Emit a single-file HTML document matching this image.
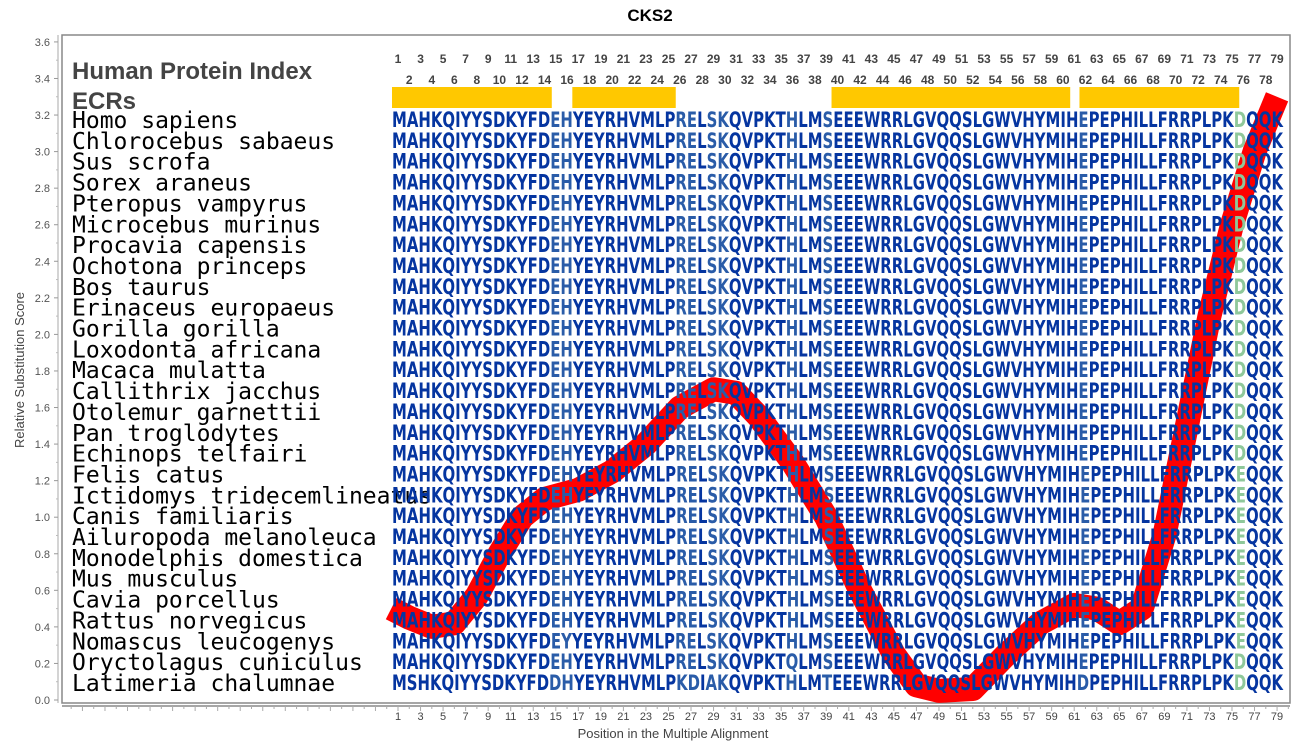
<!DOCTYPE html>
<html><head><meta charset="utf-8"><style>
html,body{margin:0;padding:0;background:#fff;width:1300px;height:750px;overflow:hidden}
svg{display:block}
</style></head><body>
<svg id="s" width="1300" height="750" xmlns="http://www.w3.org/2000/svg" font-family="Liberation Sans, sans-serif"></svg>
<script>
var s=document.getElementById('s');var h='';
function X(p){return 398+(p-1)*11.27;}
function Y(v){return 700-v*182.8;}
h+='<defs><clipPath id="c"><rect x="62" y="35" width="1228" height="668"/></clipPath></defs>';
h+='<text x="650" y="21" text-anchor="middle" font-weight="bold" font-size="17">CKS2</text>';
h+='<rect x="62" y="35" width="1228" height="668" fill="none" stroke="#888" stroke-width="1.5"/>';
h+='<line x1="58" y1="35" x2="58" y2="703" stroke="#aaa"/>';
h+='<line x1="62" y1="706" x2="1290" y2="706" stroke="#888" stroke-width="1.5"/>';
for(var v=0;v<=3.6001;v+=0.2){var y=Y(v);h+='<text x="50" y="'+(y+4)+'" text-anchor="end" font-size="11" fill="#555">'+v.toFixed(1)+'</text><line x1="54" y1="'+y+'" x2="58" y2="'+y+'" stroke="#999"/>';}
for(var v=0.1;v<3.6;v+=0.2){var y=Y(v);h+='<line x1="56" y1="'+y+'" x2="58" y2="'+y+'" stroke="#bbb"/>';}
for(var p=-29;p<=80;p++){var x=X(p);if(x<62||x>1290)continue;h+='<line x1="'+x+'" y1="706" x2="'+x+'" y2="'+(p%2?711:709)+'" stroke="#aaa"/>';}
for(var p=1;p<=79;p+=2)h+='<text x="'+X(p)+'" y="720" text-anchor="middle" font-size="11" fill="#444">'+p+'</text>';
h+='<text x="673" y="738" text-anchor="middle" font-size="13" fill="#444">Position in the Multiple Alignment</text>';
h+='<text transform="translate(24,370) rotate(-90)" text-anchor="middle" font-size="13" fill="#444">Relative Substitution Score</text>';
for(var p=1;p<=79;p++){h+='<text x="'+X(p)+'" y="'+(p%2?63:84)+'" text-anchor="middle" font-size="12" font-weight="bold" fill="#444">'+p+'</text>';}
h+='<text x="72" y="79" font-size="24" font-weight="bold" fill="#444">Human Protein Index</text>';
h+='<text x="72" y="109" font-size="24" font-weight="bold" fill="#444">ECRs</text>';
[[1,15],[17,26],[40,61],[62,76]].forEach(function(r){var x1=X(r[0])-6,x2=X(r[1])-4;h+='<rect x="'+x1+'" y="87" width="'+(x2-x1)+'" height="21" fill="#ffc800"/>';});
var pts=[[0.4,0.5],[2,0.45],[4,0.4],[6,0.42],[8,0.57],[10,0.8],[12,1.0],[14,1.1],[17,1.15],[20,1.25],[23,1.4],[26,1.6],[29,1.7],[31,1.68],[33,1.55],[36,1.3],[39,1.0],[42,0.6],[45,0.25],[47,0.08],[49,0.05],[52,0.06],[55,0.25],[58,0.42],[61,0.52],[63,0.5],[65,0.42],[67,0.5],[69,0.9],[71,1.5],[73,2.1],[75,2.6],[77,3.0],[79,3.3]];
h+='<polyline clip-path="url(#c)" fill="none" stroke="#ff0000" stroke-width="24" stroke-linejoin="round" points="'+pts.map(function(q){return (X(q[0]))+','+Y(q[1]);}).join(' ')+'"/>';
var names=["Homo sapiens","Chlorocebus sabaeus","Sus scrofa","Sorex araneus","Pteropus vampyrus","Microcebus murinus","Procavia capensis","Ochotona princeps","Bos taurus","Erinaceus europaeus","Gorilla gorilla","Loxodonta africana","Macaca mulatta","Callithrix jacchus","Otolemur garnettii","Pan troglodytes","Echinops telfairi","Felis catus","Ictidomys tridecemlineatus","Canis familiaris","Ailuropoda melanoleuca","Monodelphis domestica","Mus musculus","Cavia porcellus","Rattus norvegicus","Nomascus leucogenys","Oryctolagus cuniculus","Latimeria chalumnae"];
var base="MAHKQIYYSDKYFDEHYEYRHVMLPRELSKQVPKTHLMSEEEWRRLGVQQSLGWVHYMIHEPEPHILLFRRPLPKDQQK";
var light={15:1,16:1,26:1,27:1,29:1,30:1,36:1,39:1,61:1};
for(var i=0;i<names.length;i++){
 var y=128+i*20.85;
 h+='<text x="72" y="'+y+'" font-family="DejaVu Sans Mono, Liberation Mono, monospace" font-size="23" fill="#000">'+names[i]+'</text>';
 var sq=base.split('');
 if(i>=17&&i<=25)sq[75]='E';
 if(names[i]=="Nomascus leucogenys")sq[15]='Y';
 if(names[i]=="Oryctolagus cuniculus")sq[35]='Q';
 if(names[i]=="Latimeria chalumnae")sq="MSHKQIYYSDKYFDDHYEYRHVMLPKDIAKQVPKTHLMTEEEWRRLGVQQSLGWVHYMIHDPEPHILLFRRPLPKDQQK".split('');
 var t='<text x="392" y="'+(y-1)+'" font-family="DejaVu Sans, sans-serif" font-weight="bold" font-size="21" textLength="891" lengthAdjust="spacingAndGlyphs">';
 for(var p=1;p<=79;p++){var c=sq[p-1];var col=p==76?'#8fc89a':(light[p]?'#2a5ca8':'#0535a0');t+='<tspan fill="'+col+'">'+c+'</tspan>';}
 h+=t+'</text>';
}
s.innerHTML=h;
</script>
</body></html>
